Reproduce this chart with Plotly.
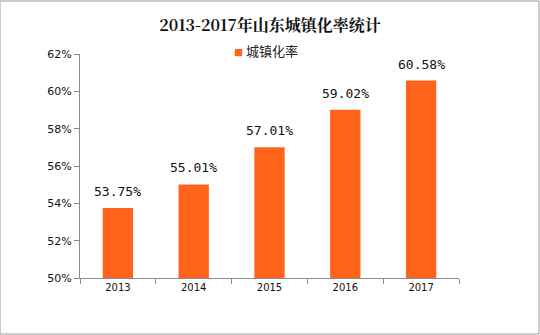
import plotly.graph_objects as go

years = ["2013", "2014", "2015", "2016", "2017"]
rates = [53.75, 55.01, 57.01, 59.02, 60.58]
tick_vals = [50, 52, 54, 56, 58, 60, 62]
tick_text = ["50%", "52%", "54%", "56%", "58%", "60%", "62%"]
series_name = "城镇化率"

bar_color = "#FF631C"
axis_color = "#8C8C8C"
cjk = "Noto Sans CJK SC"

fig = go.Figure()
fig.add_trace(go.Bar(
    x=years,
    y=rates,
    name=series_name,
    marker=dict(color=bar_color, line=dict(width=0)),
    width=0.4,
    showlegend=False,
))

# value labels above each bar (category axis positions are indices)
value_labels = [dict(
    x=i, y=v, xref="x", yref="y", text=f"{v:.2f}%",
    showarrow=False, yanchor="bottom", yshift=7,
    font=dict(family="DejaVu Sans Mono", size=13, color="#111"),
) for i, v in enumerate(rates)]

legend_label = dict(
    xref="paper", yref="paper", x=0.402, y=1.0, xanchor="left", yanchor="bottom",
    yshift=-8,
    text=f"<span style='color:{bar_color};font-size:9px'>■</span> {series_name}",
    showarrow=False,
    font=dict(family=cjk, size=13, color="#222"),
)

fig.update_layout(
    width=540, height=335,
    margin=dict(l=80, r=81, t=54, b=57),
    paper_bgcolor="white",
    plot_bgcolor="white",
    title=dict(
        text="<b>2013-2017年山东城镇化率统计</b>",
        x=0.5, xanchor="center", y=0.925, yanchor="middle",
        font=dict(family="Noto Serif CJK SC, " + cjk, size=16, color="#111"),
    ),
    xaxis=dict(
        type="category",
        categoryorder="array", categoryarray=years,
        showline=True, linecolor=axis_color, linewidth=1,
        ticks="outside", ticklen=5, tickcolor=axis_color,
        tickson="boundaries",
        tickfont=dict(family="DejaVu Sans", size=10, color="#111"),
        showgrid=False,
    ),
    yaxis=dict(
        range=[50, 62],
        tickvals=tick_vals, ticktext=tick_text,
        showline=True, linecolor=axis_color, linewidth=1,
        ticks="outside", ticklen=5, tickcolor=axis_color,
        tickfont=dict(family="DejaVu Sans", size=11, color="#111"),
        showgrid=False, zeroline=False,
    ),
    bargap=0.6,
    annotations=value_labels + [legend_label],
    shapes=[dict(
        type="rect", xref="paper", yref="paper",
        x0=-80 / 379, x1=1 + 80 / 379, y0=-56 / 224, y1=1 + 53 / 224,
        line=dict(color="#999", width=1), fillcolor="rgba(0,0,0,0)",
    )],
)

fig.write_html("out.html")
